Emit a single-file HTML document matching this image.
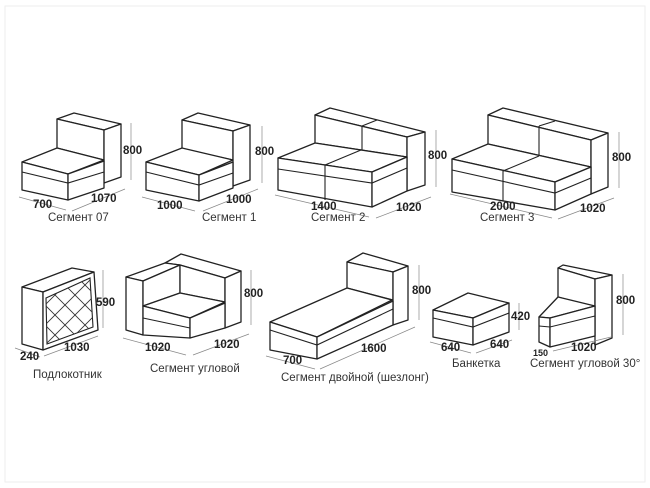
<!DOCTYPE html>
<html><head><meta charset="utf-8"><style>
html,body{margin:0;padding:0;background:#fff}
svg{display:block}
.s{fill:#fff;stroke:#222;stroke-width:1.3;stroke-linejoin:round}
.l{fill:none;stroke:#222;stroke-width:1.1}
.d{fill:none;stroke:#888;stroke-width:0.7}
.n{font-family:"Liberation Sans",sans-serif;font-size:11.5px;font-weight:bold;fill:#222}
.c{font-family:"Liberation Sans",sans-serif;font-size:11.5px;fill:#333}
</style></head><body>
<svg width="650" height="488" viewBox="0 0 650 488">
<rect x="0" y="0" width="650" height="488" fill="#fff"/>
<rect x="5" y="6" width="640" height="476" fill="none" stroke="#eee" stroke-width="1"/>

<!-- Segment 07 -->
<g>
<polygon class="s" points="57,119 74,113 121,124 104,130"/>
<polygon class="s" points="57,119 104,130 104,160 57,148"/>
<polygon class="s" points="104,130 121,124 121,177 104,183"/>
<polygon class="s" points="22,162 57,148 104,160 68,174"/>
<polygon class="s" points="22,162 68,174 68,200 22,190"/>
<polygon class="s" points="68,174 104,161 104,188 68,200"/>
<polyline class="l" points="22,172 68,183 104,172"/>
<line class="d" x1="131" y1="123" x2="131" y2="180"/>
<text class="n" x="123" y="154">800</text>
<line class="d" x1="19" y1="197" x2="66" y2="210"/>
<text class="n" x="33" y="208">700</text>
<line class="d" x1="72" y1="211" x2="125" y2="189"/>
<text class="n" x="91" y="202">1070</text>
<text class="c" x="48" y="221">Сегмент 07</text>
</g>

<!-- Segment 1 -->
<g>
<polygon class="s" points="182,120 198,113 250,125 233,131"/>
<polygon class="s" points="182,120 233,131 233,160 182,149"/>
<polygon class="s" points="233,131 250,125 250,180 233,186"/>
<polygon class="s" points="146,162 182,148 233,160 199,175"/>
<polygon class="s" points="146,162 199,175 199,201 146,190"/>
<polygon class="s" points="199,175 233,162 233,188 199,201"/>
<polyline class="l" points="146,172 199,185 233,173"/>
<line class="d" x1="262" y1="126" x2="262" y2="183"/>
<text class="n" x="255" y="155">800</text>
<line class="d" x1="142" y1="197" x2="195" y2="211"/>
<text class="n" x="157" y="209">1000</text>
<line class="d" x1="203" y1="211" x2="258" y2="189"/>
<text class="n" x="226" y="203">1000</text>
<text class="c" x="202" y="221">Сегмент 1</text>
</g>

<!-- Segment 2 -->
<g>
<polygon class="s" points="315,115 330,108 425,132 407,137"/>
<polygon class="s" points="315,115 407,137 407,157 315,143"/>
<line class="l" x1="362" y1="126" x2="377" y2="120"/>
<line class="l" x1="362" y1="126" x2="362" y2="150"/>
<polygon class="s" points="407,137 425,132 425,185 407,191"/>
<polygon class="s" points="278,158 315,143 407,157 372,172"/>
<polygon class="s" points="278,158 372,172 372,207 278,190"/>
<polygon class="s" points="372,172 407,157 407,191 372,207"/>
<line class="l" x1="325" y1="165" x2="361" y2="150"/>
<line class="l" x1="325" y1="165" x2="325" y2="200"/>
<polyline class="l" points="278,169 372,183 407,168"/>
<line class="d" x1="436" y1="130" x2="436" y2="187"/>
<text class="n" x="428" y="159">800</text>
<line class="d" x1="275" y1="195" x2="369" y2="217"/>
<text class="n" x="311" y="210">1400</text>
<line class="d" x1="376" y1="218" x2="431" y2="197"/>
<text class="n" x="396" y="211">1020</text>
<text class="c" x="311" y="221">Сегмент 2</text>
</g>

<!-- Segment 3 -->
<g>
<polygon class="s" points="488,115 503,108 608,133 591,140"/>
<polygon class="s" points="488,115 591,140 591,167 488,144"/>
<line class="l" x1="539" y1="126" x2="555" y2="121"/>
<line class="l" x1="539" y1="126" x2="539" y2="155"/>
<polygon class="s" points="591,140 608,133 608,187 591,194"/>
<polygon class="s" points="452,159 488,144 591,167 555,182"/>
<polygon class="s" points="452,159 555,182 555,210 452,192"/>
<polygon class="s" points="555,182 591,167 591,194 555,210"/>
<line class="l" x1="503" y1="171" x2="539" y2="156"/>
<line class="l" x1="503" y1="171" x2="503" y2="201"/>
<polyline class="l" points="452,170 555,193 591,178"/>
<line class="d" x1="619" y1="132" x2="619" y2="188"/>
<text class="n" x="612" y="161">800</text>
<line class="d" x1="450" y1="194" x2="552" y2="218"/>
<text class="n" x="490" y="210">2000</text>
<line class="d" x1="558" y1="219" x2="614" y2="198"/>
<text class="n" x="580" y="212">1020</text>
<text class="c" x="480" y="221">Сегмент 3</text>
</g>

<!-- Podlokotnik -->
<g>
<polygon class="s" points="22,287 72,268 94,272 43,292"/>
<polygon class="s" points="22,287 43,292 43,350 22,344"/>
<polygon class="s" points="43,292 94,272 98,330 43,350"/>
<polygon class="l" points="46,298 90,278 93,327 47,344"/>
<clipPath id="cp"><polygon points="46,298 90,278 93,327 47,344"/></clipPath>
<g clip-path="url(#cp)" stroke="#333" stroke-width="0.9" fill="none">
<line x1="30" y1="290" x2="100" y2="360"/><line x1="40" y1="280" x2="110" y2="350"/>
<line x1="50" y1="270" x2="120" y2="340"/><line x1="60" y1="260" x2="130" y2="330"/>
<line x1="20" y1="300" x2="90" y2="370"/><line x1="70" y1="250" x2="140" y2="320"/>
<line x1="30" y1="340" x2="100" y2="270"/><line x1="40" y1="350" x2="110" y2="280"/>
<line x1="20" y1="330" x2="90" y2="260"/><line x1="50" y1="360" x2="120" y2="290"/>
<line x1="10" y1="320" x2="80" y2="250"/><line x1="60" y1="370" x2="130" y2="300"/>
</g>
<line class="d" x1="103" y1="270" x2="103" y2="328"/>
<text class="n" x="96" y="306">590</text>
<line class="d" x1="15" y1="348" x2="40" y2="357"/>
<text class="n" x="20" y="360">240</text>
<line class="d" x1="44" y1="356" x2="98" y2="336"/>
<text class="n" x="64" y="351">1030</text>
<text class="c" x="33" y="378">Подлокотник</text>
</g>

<!-- Segment uglovoy -->
<g>
<polygon class="s" points="165,263 181,254 241,271 225,278 180,265"/>
<polygon class="s" points="126,277 165,263 180,265 143,281"/>
<polygon class="s" points="126,277 143,281 143,335 126,330"/>
<polygon class="s" points="143,281 180,265 180,293 143,306"/>
<polygon class="s" points="180,265 225,278 225,302 180,293"/>
<polygon class="s" points="225,278 241,271 241,322 225,328"/>
<polygon class="s" points="143,306 180,293 225,302 190,318"/>
<polygon class="s" points="143,306 190,318 190,338 143,335"/>
<polygon class="s" points="190,318 225,303 225,328 190,338"/>
<polyline class="l" points="143,318 190,328"/>
<line class="d" x1="251" y1="270" x2="251" y2="325"/>
<text class="n" x="244" y="297">800</text>
<line class="d" x1="123" y1="338" x2="186" y2="355"/>
<text class="n" x="145" y="351">1020</text>
<line class="d" x1="193" y1="355" x2="249" y2="334"/>
<text class="n" x="214" y="348">1020</text>
<text class="c" x="150" y="372">Сегмент угловой</text>
</g>

<!-- Shezlong -->
<g>
<polygon class="s" points="347,262 363,253 408,266 393,272"/>
<polygon class="s" points="347,262 393,272 393,300 347,288"/>
<polygon class="s" points="393,272 408,266 408,320 393,325"/>
<polygon class="s" points="270,322 347,288 392,300 317,337"/>
<polygon class="s" points="270,322 317,337 317,359 270,350"/>
<polygon class="s" points="317,337 393,301 393,325 317,359"/>
<polyline class="l" points="270,330 317,345 393,309"/>
<line class="d" x1="419" y1="265" x2="419" y2="320"/>
<text class="n" x="412" y="294">800</text>
<line class="d" x1="266" y1="356" x2="315" y2="369"/>
<text class="n" x="283" y="364">700</text>
<line class="d" x1="320" y1="369" x2="415" y2="327"/>
<text class="n" x="361" y="352">1600</text>
<text class="c" x="281" y="381">Сегмент двойной (шезлонг)</text>
</g>

<!-- Banketka -->
<g>
<polygon class="s" points="433,310 468,293 509,303 473,318"/>
<polygon class="s" points="433,310 473,318 473,345 433,337"/>
<polygon class="s" points="473,318 509,303 509,332 473,345"/>
<polyline class="l" points="433,318 473,327 509,313"/>
<line class="d" x1="519" y1="303" x2="519" y2="330"/>
<text class="n" x="511" y="320">420</text>
<line class="d" x1="430" y1="342" x2="471" y2="353"/>
<text class="n" x="441" y="351">640</text>
<line class="d" x1="476" y1="353" x2="512" y2="340"/>
<text class="n" x="490" y="348">640</text>
<text class="c" x="452" y="367">Банкетка</text>
</g>

<!-- Segment uglovoy 30 -->
<g>
<polygon class="s" points="558,268 563,265 612,275 595,279"/>
<polygon class="s" points="558,268 595,279 595,308 558,297"/>
<polygon class="s" points="595,279 612,275 612,338 595,345"/>
<polygon class="s" points="539,317 558,297 595,306 550,318"/>
<polygon class="s" points="539,317 550,318 550,347 539,342"/>
<polygon class="s" points="550,318 595,306 595,336 550,347"/>
<polyline class="l" points="539,326 550,327 595,316"/>
<line class="d" x1="623" y1="274" x2="623" y2="335"/>
<text class="n" x="616" y="304">800</text>
<text class="n" x="533" y="356" style="font-size:9px">150</text>
<line class="d" x1="553" y1="351" x2="611" y2="337"/>
<text class="n" x="571" y="351">1020</text>
<text class="c" x="530" y="367">Сегмент угловой 30°</text>
</g>
</svg>
</body></html>
